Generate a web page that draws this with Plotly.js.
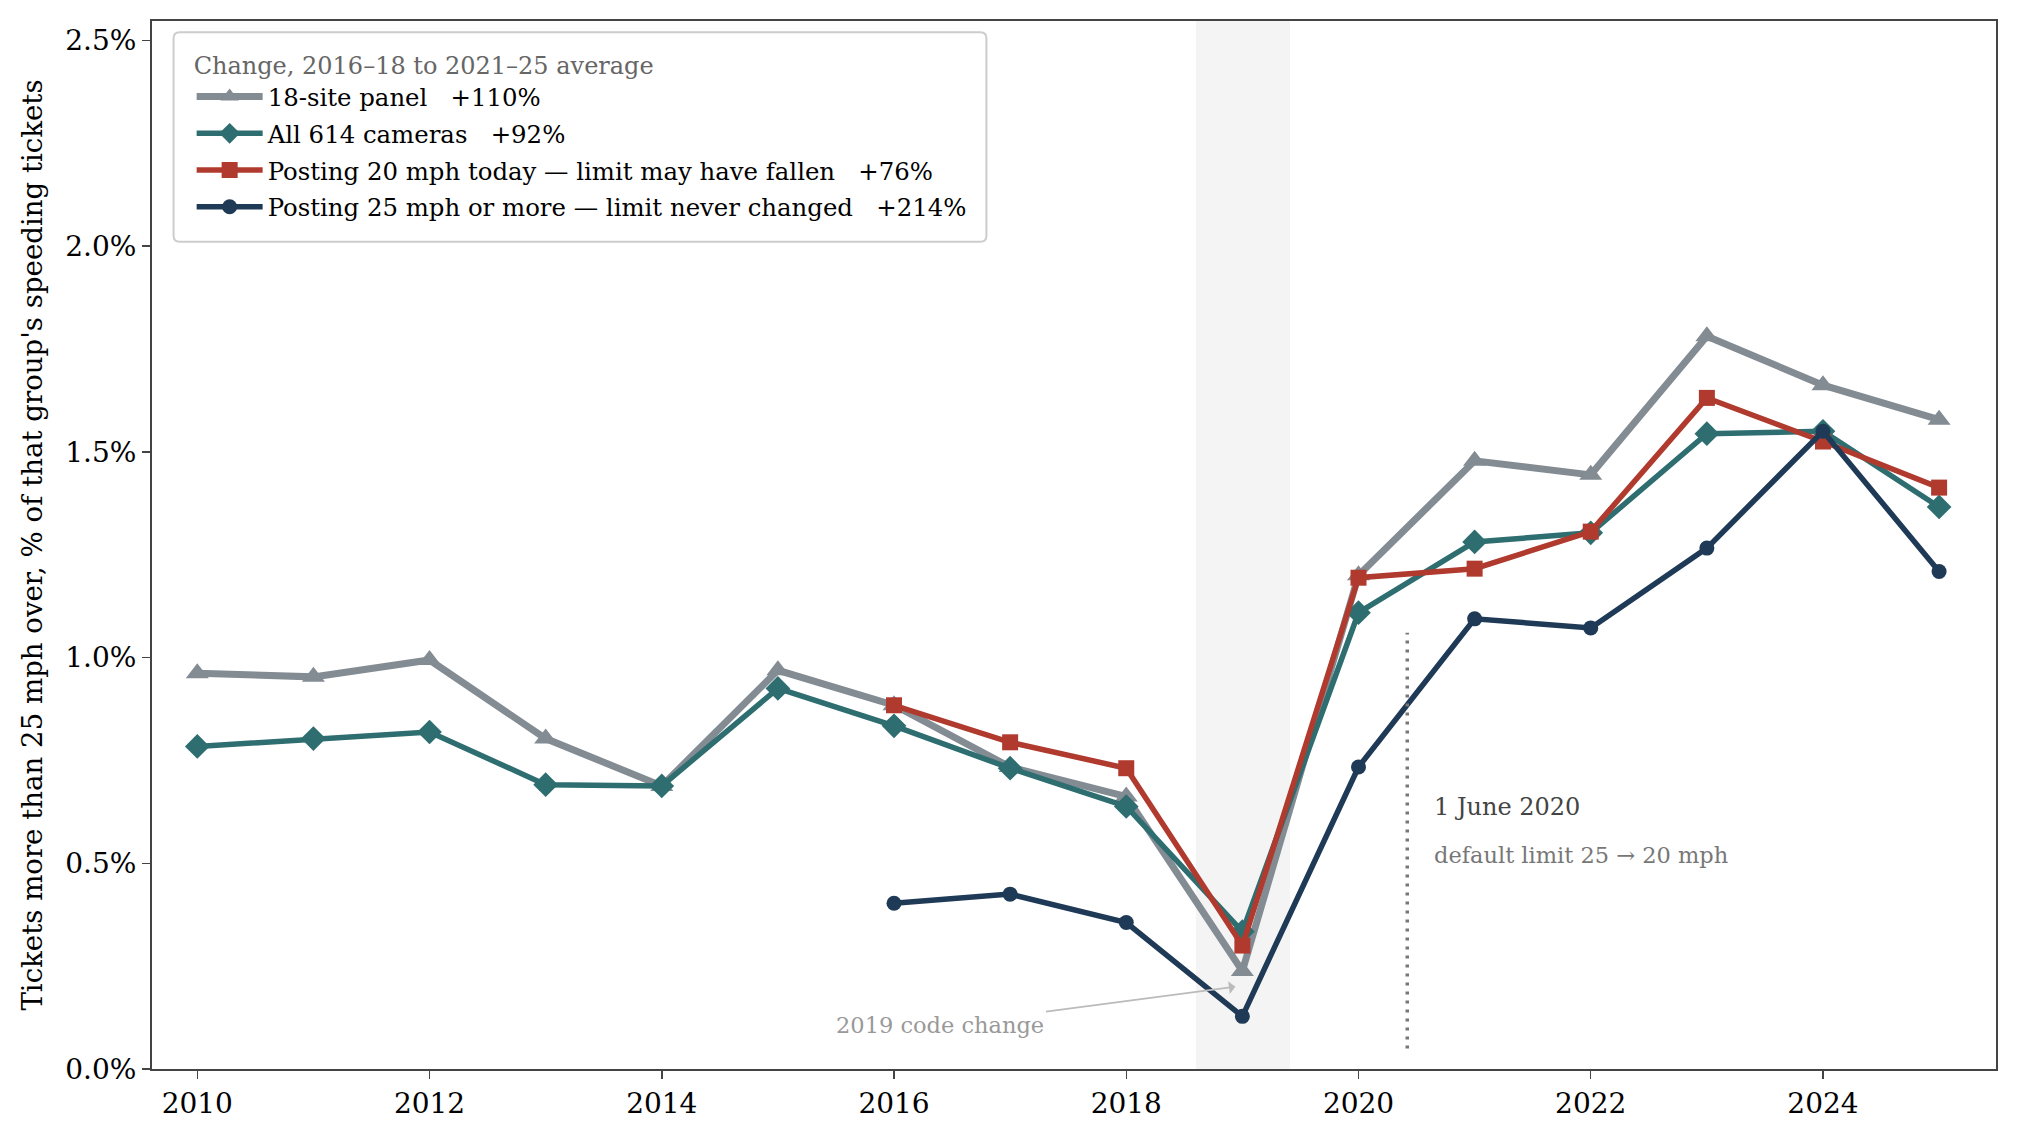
<!DOCTYPE html>
<html>
<head>
<meta charset="utf-8">
<script src="https://cdn.plot.ly/plotly-3.0.1.min.js"></script>
<style>
  html, body { margin: 0; padding: 0; background: #fff; }
  #chart { width: 2017px; height: 1137px; }
</style>
</head>
<body>
<div id="chart"></div>
<script>
// years on the x axis
const years = [2010, 2011, 2012, 2013, 2014, 2015, 2016, 2017, 2018, 2019, 2020, 2021, 2022, 2023, 2024, 2025];
const yearsLate = [2016, 2017, 2018, 2019, 2020, 2021, 2022, 2023, 2024, 2025];

// share of speeding tickets more than 25 mph over, in %
const panel18 = [0.962, 0.953, 0.994, 0.803, 0.688, 0.969, 0.884, 0.734, 0.662, 0.238, 1.200, 1.478, 1.444, 1.781, 1.662, 1.578];
const allCameras = [0.784, 0.803, 0.819, 0.691, 0.688, 0.925, 0.834, 0.731, 0.638, 0.334, 1.109, 1.281, 1.303, 1.544, 1.550, 1.366];
const posting20 = [0.884, 0.794, 0.731, 0.300, 1.194, 1.216, 1.306, 1.631, 1.525, 1.413];
const posting25 = [0.403, 0.425, 0.356, 0.128, 0.734, 1.094, 1.072, 1.266, 1.550, 1.209];

const seriesNames = [
  "18-site panel   +110%",
  "All 614 cameras   +92%",
  "Posting 20 mph today \u2014 limit may have fallen   +76%",
  "Posting 25 mph or more \u2014 limit never changed   +214%"
];
const yTicks = [0, 0.5, 1.0, 1.5, 2.0, 2.5];
const yTickText = ["0.0%", "0.5%", "1.0%", "1.5%", "2.0%", "2.5%"];
const xTicks = [2010, 2012, 2014, 2016, 2018, 2020, 2022, 2024];

const serif = "DejaVu Serif, serif";

// legend frame drawn as a rounded box, paper coordinates
function roundedBox(x0, y0, x1, y1, rx, ry) {
  return "M" + (x0 + rx) + "," + y1 +
    " L" + (x1 - rx) + "," + y1 + " Q" + x1 + "," + y1 + " " + x1 + "," + (y1 - ry) +
    " L" + x1 + "," + (y0 + ry) + " Q" + x1 + "," + y0 + " " + (x1 - rx) + "," + y0 +
    " L" + (x0 + rx) + "," + y0 + " Q" + x0 + "," + y0 + " " + x0 + "," + (y0 + ry) +
    " L" + x0 + "," + (y1 - ry) + " Q" + x0 + "," + y1 + " " + (x0 + rx) + "," + y1 + " Z";
}

const data = [
  {
    x: years, y: panel18, name: seriesNames[0], legendgroup: "a", type: "scatter", mode: "lines+markers",
    line: { color: "#838b93", width: 7 },
    marker: { symbol: "triangle-up", size: 20, color: "#838b93" }
  },
  {
    x: years, y: allCameras, name: seriesNames[1], legendgroup: "b", type: "scatter", mode: "lines+markers",
    line: { color: "#2e6e70", width: 5.5 },
    marker: { symbol: "diamond", size: 19, color: "#2e6e70" }
  },
  {
    x: yearsLate, y: posting20, name: seriesNames[2], legendgroup: "c", type: "scatter", mode: "lines+markers",
    line: { color: "#b03a2e", width: 5.5 },
    marker: { symbol: "square", size: 16, color: "#b03a2e" }
  },
  {
    x: yearsLate, y: posting25, name: seriesNames[3], legendgroup: "d", type: "scatter", mode: "lines+markers",
    line: { color: "#1f3a56", width: 5.5 },
    marker: { symbol: "circle", size: 15, color: "#1f3a56" }
  }
];

const layout = {
  width: 2017,
  height: 1137,
  margin: { l: 152, r: 21, t: 21, b: 68 },
  paper_bgcolor: "#fff",
  plot_bgcolor: "#fff",
  font: { family: serif, color: "#000", size: 24 },
  showlegend: true,
  hovermode: false,
  xaxis: {
    range: [2009.61, 2025.49],
    tickvals: xTicks,
    ticks: "outside", ticklen: 8, tickwidth: 1.5, tickcolor: "#444",
    showgrid: false, zeroline: false,
    showline: true, mirror: true, linecolor: "#444", linewidth: 2,
    tickfont: { family: serif, size: 28, color: "#000" }
  },
  yaxis: {
    range: [0, 2.547],
    tickmode: "array", tickvals: yTicks, ticktext: yTickText,
    ticks: "outside", ticklen: 8, tickwidth: 1.5, tickcolor: "#444",
    showgrid: false, zeroline: false,
    showline: true, mirror: true, linecolor: "#444", linewidth: 2,
    tickfont: { family: serif, size: 28, color: "#000" },
    title: {
      text: "Tickets more than 25 mph over, % of that group's speeding tickets",
      font: { family: serif, size: 27.6, color: "#000" },
      standoff: 15
    }
  },
  legend: {
    x: 0.0215, y: 0.979, xanchor: "left", yanchor: "top",
    bgcolor: "rgba(0,0,0,0)",
    borderwidth: 0,
    font: { family: serif, size: 24.4, color: "#000" },
    title: { text: "Change, 2016\u201318 to 2021\u201325 average", font: { family: serif, size: 24, color: "#666" } },
    tracegroupgap: 2,
    itemwidth: 66
  },
  shapes: [
    {
      type: "rect", xref: "x", yref: "paper", x0: 2018.6, x1: 2019.41, y0: 0, y1: 1,
      fillcolor: "#f4f4f4", line: { width: 0 }, layer: "below"
    },
    {
      type: "line", xref: "x", yref: "y", x0: 2020.42, x1: 2020.42, y0: 0.05, y1: 1.06,
      line: { color: "#777", width: 3.5, dash: "3px,6px" }
    },
    {
      type: "path", xref: "paper", yref: "paper",
      path: roundedBox(0.0117, 0.7893, 0.4525, 0.9893, 0.0033, 0.0057),
      fillcolor: "rgba(255,255,255,0.85)", line: { color: "#cccccc", width: 2 }, layer: "above"
    }
  ],
  annotations: [
    {
      x: 2020.63, y: 0.6375, xref: "x", yref: "y", text: "1 June 2020",
      showarrow: false, xanchor: "left", yanchor: "middle",
      font: { family: serif, size: 24, color: "#444" }
    },
    {
      x: 2020.63, y: 0.519, xref: "x", yref: "y", text: "default limit 25 \u2192 20 mph",
      showarrow: false, xanchor: "left", yanchor: "middle",
      font: { family: serif, size: 22.5, color: "#777" }
    },
    {
      x: 2018.94, y: 0.20, xref: "x", yref: "y",
      ax: 2016.4, ay: 0.106, axref: "x", ayref: "y",
      text: "2019 code change", showarrow: true,
      arrowhead: 1, arrowsize: 1.2, arrowwidth: 1.8, arrowcolor: "#bbb",
      font: { family: serif, size: 22.5, color: "#999" }
    }
  ]
};

Plotly.newPlot("chart", data, layout, { displayModeBar: false, staticPlot: true });
</script>
</body>
</html>
